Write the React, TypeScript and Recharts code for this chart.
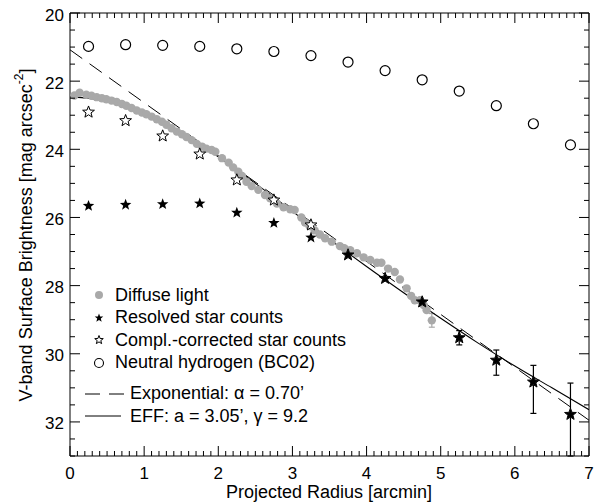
import { ComposedChart, Scatter, Line, XAxis, YAxis, ErrorBar, Legend } from 'recharts';

const FONT = '"Liberation Sans", Arial, Helvetica, sans-serif';
const GREY = '#a9a9a9';

// diffuse light profile (gray dots)
const diffuseRadius = [
  0.06, 0.13, 0.22, 0.29, 0.36, 0.43, 0.49, 0.56, 0.63, 0.7, 0.76, 0.83, 0.9, 0.97,
  1.03, 1.1, 1.17, 1.24, 1.3, 1.37, 1.44, 1.51, 1.57, 1.64, 1.71, 1.78, 1.84, 1.91,
  1.96, 2.05, 2.14, 2.2, 2.27, 2.32, 2.38, 2.45, 2.54, 2.63, 2.7, 2.79, 2.88, 2.97,
  3.03, 3.12, 3.17, 3.23, 3.3, 3.37, 3.44, 3.53, 3.64, 3.7, 3.78, 3.87, 3.96, 4.05,
  4.14, 4.2, 4.29, 4.38, 4.45, 4.54, 4.6, 4.65, 4.72, 4.77, 4.81, 4.88,
];
const diffuseMag = [
  22.42, 22.34, 22.4, 22.43, 22.47, 22.5, 22.53, 22.57, 22.61, 22.67, 22.72, 22.79, 22.86, 22.92,
  22.97, 23.04, 23.12, 23.19, 23.28, 23.38, 23.48, 23.56, 23.64, 23.73, 23.84, 23.92, 23.98, 24.02,
  24.07, 24.26, 24.39, 24.53, 24.66, 24.78, 24.95, 25.08, 25.19, 25.34, 25.44, 25.59, 25.7, 25.76,
  25.78, 26.0, 26.15, 26.25, 26.38, 26.5, 26.61, 26.71, 26.84, 26.9, 26.96, 27.05, 27.17, 27.25,
  27.33, 27.33, 27.5, 27.6, 27.82, 28.08, 28.3, 28.43, 28.43, 28.57, 28.72, 29.02,
];
const diffuseErrRadius = [4.88];
const diffuseErrMag = [29.02];
const diffuseErr = [0.2];

// star counts
const starRadius = [0.25, 0.75, 1.25, 1.75, 2.25, 2.75, 3.25, 3.75, 4.25, 4.75, 5.25, 5.75, 6.25, 6.75];
const resolvedMag = [25.66, 25.63, 25.61, 25.59, 25.86, 26.16, 26.59, 27.1, 27.79, 28.48, 29.53, 30.19, 30.83, 31.78];
const correctedMag = [22.91, 23.16, 23.61, 24.14, 24.9, 25.49, 26.22, 27.1, 27.79, 28.48, 29.53, 30.19, 30.83, 31.78];
const errRadius = [5.25, 5.75, 6.25, 6.75];
const errMag = [29.53, 30.19, 30.83, 31.78];
const errLow = [0.21, 0.3, 0.49, 0.92];
const errHigh = [0.21, 0.44, 0.92, 1.22];

// neutral hydrogen (BC02)
const hiMag = [20.98, 20.93, 20.95, 20.98, 21.05, 21.13, 21.25, 21.44, 21.69, 21.96, 22.29, 22.72, 23.25, 23.87];

// model fits
const expRadius = [0, 7];
const expMag = [21.08, 31.95];
const effRadius = [0, 0.5, 1, 1.5, 2, 2.5, 3, 3.5, 4, 4.5, 5, 5.5, 6, 6.5, 7];
const effMag = [22.46, 22.58, 22.95, 23.52, 24.22, 25.0, 25.82, 26.64, 27.44, 28.21, 28.96, 29.68, 30.36, 31.0, 31.64];

const xTicks = Array.from({ length: 71 }, (_, i) => i / 10);
const yTicks = Array.from({ length: 27 }, (_, i) => 20 + i / 2);

const diffuseData = diffuseRadius.map((x, i) => ({ x, y: diffuseMag[i] }));
const diffuseErrData = diffuseErrRadius.map((x, i) => ({ x, y: diffuseErrMag[i], err: diffuseErr[i] }));
const resolvedData = starRadius.map((x, i) => ({ x, y: resolvedMag[i] }));
const correctedData = starRadius.map((x, i) => ({ x, y: correctedMag[i] }));
const hiData = starRadius.map((x, i) => ({ x, y: hiMag[i] }));
const errData = errRadius.map((x, i) => ({ x, y: errMag[i], err: [errLow[i], errHigh[i]] }));
const expData = expRadius.map((x, i) => ({ x, y: expMag[i] }));
const effData = effRadius.map((x, i) => ({ x, y: effMag[i] }));

const starPoints = (cx: number, cy: number, R: number) => {
  const r = R * 0.42;
  const pts: string[] = [];
  for (let i = 0; i < 10; i++) {
    const a = -Math.PI / 2 + (i * Math.PI) / 5;
    const rad = i % 2 === 0 ? R : r;
    pts.push(`${cx + rad * Math.cos(a)},${cy + rad * Math.sin(a)}`);
  }
  return pts.join(' ');
};

const GreyDot = (p: any) => <circle cx={p.cx} cy={p.cy} r={4.2} fill={GREY} />;
const FilledStar = (p: any) => <polygon points={starPoints(p.cx, p.cy, 6)} fill="#000" />;
const OpenStar = (p: any) => (
  <polygon points={starPoints(p.cx, p.cy, 6.2)} fill="#fff" stroke="#000" strokeWidth={1} strokeLinejoin="round" />
);
const OpenCircle = (p: any) => <circle cx={p.cx} cy={p.cy} r={5} fill="none" stroke="#000" strokeWidth={1.2} />;
const Nothing = () => <g />;

const tickText = { fontFamily: FONT, fontSize: 17, fill: '#000' };

const BottomTick = ({ x, y, payload }: any) => {
  const major = Number.isInteger(payload.value);
  return (
    <g>
      <line x1={x} x2={x} y1={y} y2={y - (major ? 10 : 5)} stroke="#000" />
      {major && (
        <text x={x} y={y + 23} textAnchor="middle" {...tickText}>
          {payload.value}
        </text>
      )}
    </g>
  );
};

const TopTick = ({ x, y, payload }: any) => {
  const major = Number.isInteger(payload.value);
  return <line x1={x} x2={x} y1={y} y2={y + (major ? 10 : 5)} stroke="#000" />;
};

const LeftTick = ({ x, y, payload }: any) => {
  const major = payload.value % 2 === 0;
  return (
    <g>
      <line x1={x} x2={x + (major ? 10 : 5)} y1={y} y2={y} stroke="#000" />
      {major && (
        <text x={x - 6} y={y + 7.5} textAnchor="end" {...tickText}>
          {payload.value}
        </text>
      )}
    </g>
  );
};

const RightTick = ({ x, y, payload }: any) => {
  const major = payload.value % 2 === 0;
  return <line x1={x} x2={x - (major ? 10 : 5)} y1={y} y2={y} stroke="#000" />;
};

const legendRows = [
  { label: 'Diffuse light', icon: 'dot' },
  { label: 'Resolved star counts', icon: 'star' },
  { label: 'Compl.-corrected star counts', icon: 'ostar' },
  { label: 'Neutral hydrogen (BC02)', icon: 'circle' },
  { label: 'Exponential: \u03b1 = 0.70\u2019', icon: 'dash' },
  { label: 'EFF: a = 3.05\u2019, \u03b3 = 9.2', icon: 'solid' },
];

const LegendIcon = ({ icon }: { icon: string }) => {
  if (icon === 'dash' || icon === 'solid') {
    return (
      <svg width={45} height={20} style={{ display: 'block' }}>
        <line
          x1={0}
          x2={icon === 'dash' ? 40 : 36}
          y1={10}
          y2={10}
          stroke="#000"
          strokeWidth={1}
          strokeDasharray={icon === 'dash' ? '15 9' : undefined}
        />
      </svg>
    );
  }
  return (
    <svg width={30} height={20} style={{ display: 'block' }}>
      {icon === 'dot' && <circle cx={14} cy={10} r={4} fill={GREY} />}
      {icon === 'star' && <polygon points={starPoints(14, 10, 4.5)} fill="#000" />}
      {icon === 'ostar' && <polygon points={starPoints(14, 10, 4.5)} fill="#fff" stroke="#000" strokeWidth={1} />}
      {icon === 'circle' && <circle cx={14} cy={10} r={4.5} fill="none" stroke="#000" strokeWidth={1.1} />}
    </svg>
  );
};

const renderLegend = () => (
  <div style={{ fontFamily: FONT, fontSize: 18, color: '#000' }}>
    {legendRows.map((row, i) => (
      <div
        key={row.label}
        style={{
          display: 'flex',
          alignItems: 'center',
          height: 22.5,
          marginTop: i === 4 ? 8.5 : 0,
          whiteSpace: 'nowrap',
        }}
      >
        <LegendIcon icon={row.icon} />
        <span>{row.label}</span>
      </div>
    ))}
  </div>
);

export default function App() {
  return (
    <div style={{ position: 'relative', width: 604, height: 500, marginTop: -4 }}>
      <ComposedChart width={604} height={500} margin={{ top: 8, right: 22, bottom: 47, left: 61 }}>
        <XAxis
          xAxisId="b"
          dataKey="x"
          type="number"
          domain={[0, 7]}
          ticks={xTicks}
          interval={0}
          height={1}
          tickSize={0}
          tickMargin={0}
          tick={<BottomTick />}
          tickLine={false}
          axisLine={{ stroke: '#000' }}
          allowDataOverflow
        />
        <XAxis
          xAxisId="t"
          orientation="top"
          dataKey="x"
          type="number"
          domain={[0, 7]}
          ticks={xTicks}
          interval={0}
          height={1}
          tickSize={0}
          tickMargin={0}
          tick={<TopTick />}
          tickLine={false}
          axisLine={{ stroke: '#000' }}
          allowDataOverflow
        />
        <YAxis
          yAxisId="l"
          dataKey="y"
          type="number"
          domain={[20, 33]}
          reversed
          ticks={yTicks}
          interval={0}
          width={1}
          tickSize={0}
          tickMargin={0}
          tick={<LeftTick />}
          tickLine={false}
          axisLine={{ stroke: '#000' }}
          allowDataOverflow
        />
        <YAxis
          yAxisId="r"
          orientation="right"
          dataKey="y"
          type="number"
          domain={[20, 33]}
          reversed
          ticks={yTicks}
          interval={0}
          width={1}
          tickSize={0}
          tickMargin={0}
          tick={<RightTick />}
          tickLine={false}
          axisLine={{ stroke: '#000' }}
          allowDataOverflow
        />

        <Scatter xAxisId="b" yAxisId="l" data={diffuseData} shape={GreyDot} isAnimationActive={false} />
        <Scatter xAxisId="b" yAxisId="l" data={diffuseErrData} shape={Nothing} isAnimationActive={false}>
          <ErrorBar dataKey="err" direction="y" width={3} stroke={GREY} strokeWidth={1.2} isAnimationActive={false} />
        </Scatter>
        <Line
          xAxisId="b"
          yAxisId="l"
          data={expData}
          dataKey="y"
          type="linear"
          stroke="#000"
          strokeWidth={1}
          strokeDasharray="15 9"
          dot={false}
          isAnimationActive={false}
        />
        <Line
          xAxisId="b"
          yAxisId="l"
          data={effData}
          dataKey="y"
          type="monotone"
          stroke="#000"
          strokeWidth={1.1}
          dot={false}
          isAnimationActive={false}
        />
        <Scatter xAxisId="b" yAxisId="l" data={hiData} shape={OpenCircle} isAnimationActive={false} />
        <Scatter xAxisId="b" yAxisId="l" data={correctedData} shape={OpenStar} isAnimationActive={false} />
        <Scatter xAxisId="b" yAxisId="l" data={errData} shape={Nothing} isAnimationActive={false}>
          <ErrorBar dataKey="err" direction="y" width={3} stroke="#000" strokeWidth={1.2} isAnimationActive={false} />
        </Scatter>
        <Scatter xAxisId="b" yAxisId="l" data={resolvedData} shape={FilledStar} isAnimationActive={false} />

        <Legend
          layout="vertical"
          align="center"
          verticalAlign="middle"
          content={renderLegend}
          wrapperStyle={{ left: 77, top: 280, width: 'auto' }}
        />

        <text
          transform="translate(18, 231) rotate(-90)"
          textAnchor="middle"
          dominantBaseline="central"
          fontFamily={FONT}
          fontSize={18}
          fill="#000"
        >
          V-band Surface Brightness [mag arcsec
          <tspan dy={-7} fontSize={12}>
            -2
          </tspan>
          <tspan dy={7}>]</tspan>
        </text>
        <text x={321} y={494} textAnchor="middle" fontFamily={FONT} fontSize={18} fill="#000">
          Projected Radius [arcmin]
        </text>
      </ComposedChart>
    </div>
  );
}
